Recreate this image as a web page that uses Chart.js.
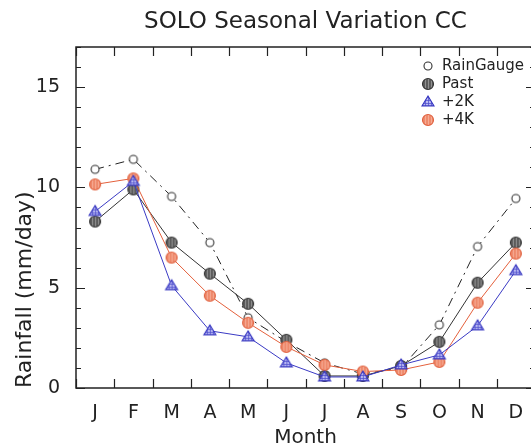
<!DOCTYPE html>
<html>
<head>
<meta charset="utf-8">
<script src="https://cdn.jsdelivr.net/npm/chart.js@4.4.0/dist/chart.umd.min.js"></script>
<style>
  html, body { margin: 0; padding: 0; background: #fff; overflow: hidden; }
  #wrap { width: 542px; height: 448px; }
</style>
</head>
<body>
<div id="wrap"><canvas id="c" width="542" height="448"></canvas></div>
<script>
/* ================================
   DATA
================================ */
const months = ['J','F','M','A','M','J','J','A','S','O','N','D'];
const rainGauge = [10.9, 11.4, 9.55, 7.25, 3.5, 2.3, 1.25, 0.7, 1.0, 3.15, 7.05, 9.45];
const past      = [8.3, 9.9, 7.25, 5.7, 4.2, 2.4, 0.6, 0.6, 1.1, 2.3, 5.25, 7.25];
const plus2K    = [8.8, 10.3, 5.1, 2.85, 2.55, 1.25, 0.55, 0.55, 1.15, 1.65, 3.1, 5.85];
const plus4K    = [10.15, 10.45, 6.5, 4.6, 3.25, 2.05, 1.15, 0.82, 0.9, 1.3, 4.25, 6.7];
const yMax = 17;
const yStep = 5;
const titleText = 'SOLO Seasonal Variation CC';

const FONT = "'DejaVu Sans', sans-serif";
const INK = '#222';

/* ================================
   MARKERS (small canvases)
================================ */
function makeMarker(shape, r, fill, stroke, hatch) {
  const s = 16;
  const m = document.createElement('canvas');
  m.width = s; m.height = s;
  const g = m.getContext('2d');
  const path = () => {
    g.beginPath();
    if (shape === 'circle') {
      g.arc(s / 2, s / 2, r, 0, Math.PI * 2);
    } else {
      g.moveTo(s / 2, s / 2 - r - 0.5);
      g.lineTo(s / 2 + r + 0.5, s / 2 + r * 0.7);
      g.lineTo(s / 2 - r - 0.5, s / 2 + r * 0.7);
      g.closePath();
    }
  };
  path();
  g.fillStyle = fill;
  g.fill();
  if (hatch) {
    g.save();
    path();
    g.clip();
    g.strokeStyle = hatch;
    g.lineWidth = 1;
    for (let x = 2.5; x < s; x += 3) {
      g.beginPath(); g.moveTo(x, 0); g.lineTo(x, s); g.stroke();
    }
    if (shape === 'tri') {
      for (let y = 3.5; y < s; y += 3) {
        g.beginPath(); g.moveTo(0, y); g.lineTo(s, y); g.stroke();
      }
    }
    g.restore();
  }
  path();
  g.strokeStyle = stroke;
  g.lineWidth = 1.1;
  g.stroke();
  return m;
}

const mkRain = makeMarker('circle', 4, '#fff', '#333', null);
const mkPast = makeMarker('circle', 5.5, '#5c5c5c', '#333', 'rgba(190,190,190,0.55)');
const mk2K   = makeMarker('tri', 5.5, '#b8b8f2', '#3535c0', 'rgba(80,80,205,0.75)');
const mk4K   = makeMarker('circle', 5.5, '#ee8a6c', '#e0603e', 'rgba(250,185,165,0.7)');

/* ================================
   FRAME, TICKS, TITLE, LEGEND
================================ */
const framePlugin = {
  id: 'frame',
  afterDraw(chart) {
    const { ctx, chartArea: a, scales } = chart;
    const x = scales.x, y = scales.y;
    ctx.save();
    ctx.strokeStyle = INK;
    ctx.lineWidth = 1.5;
    ctx.strokeRect(a.left, a.top, a.right - a.left, a.bottom - a.top);

    ctx.lineWidth = 1.2;
    ctx.beginPath();
    for (let v = 0; v <= yMax; v++) {
      const py = Math.round(y.getPixelForValue(v)) + 0.5;
      const len = v % yStep === 0 ? 9 : 5;
      ctx.moveTo(a.left, py); ctx.lineTo(a.left + len, py);
      ctx.moveTo(a.right, py); ctx.lineTo(a.right - len, py);
    }
    for (let i = 0; i <= months.length; i++) {
      const px = Math.round(x.getPixelForValue(i - 0.5)) + 0.5;
      ctx.moveTo(px, a.bottom); ctx.lineTo(px, a.bottom - 9);
      ctx.moveTo(px, a.top); ctx.lineTo(px, a.top + 9);
    }
    ctx.stroke();

    // title, centred over the plot area
    ctx.fillStyle = INK;
    ctx.textAlign = 'center';
    ctx.textBaseline = 'middle';
    ctx.font = '23px ' + FONT;
    ctx.fillText(titleText, (a.left + a.right) / 2, 22);

    // legend
    const items = [
      ['RainGauge', mkRain], ['Past', mkPast], ['+2K', mk2K], ['+4K', mk4K]
    ];
    ctx.font = '15px ' + FONT;
    ctx.textAlign = 'left';
    items.forEach((it, k) => {
      const ly = 66 + k * 18;
      Chart.helpers.drawPoint(ctx, { pointStyle: it[1], radius: 6, rotation: 0, borderWidth: 0 }, 428, ly);
      ctx.fillText(it[0], 442, ly);
    });
    ctx.restore();
  }
};

/* ================================
   CHART
================================ */
const lineSet = (label, data, color, mk, extra) => Object.assign({
  label,
  data,
  borderColor: color,
  borderWidth: 1,
  pointStyle: mk,
  pointRadius: 6,
  tension: 0,
  fill: false
}, extra || {});

new Chart(document.getElementById('c'), {
  type: 'line',
  data: {
    labels: months,
    datasets: [
      lineSet('RainGauge', rainGauge, '#222', mkRain, { borderDash: [9, 5, 2, 5], order: 4 }),
      lineSet('Past', past, '#333', mkPast, { order: 3 }),
      lineSet('+4K', plus4K, '#e4603c', mk4K, { order: 2 }),
      lineSet('+2K', plus2K, '#3a3ac4', mk2K, { order: 1 })
    ]
  },
  options: {
    responsive: false,
    animation: false,
    layout: { padding: { left: 0, right: 2, top: 47, bottom: 0 } },
    plugins: {
      legend: { display: false },
      tooltip: { enabled: false },
      title: { display: false }
    },
    scales: {
      x: {
        offset: true,
        grid: { display: false },
        border: { display: false },
        ticks: { color: INK, padding: 6, font: { family: FONT, size: 19 }, maxRotation: 0, autoSkip: false },
        title: { display: true, text: 'Month', color: INK, font: { family: FONT, size: 20, lineHeight: 1 }, padding: { top: 0, bottom: 0 } },
        afterFit: s => { s.height = 60; }
      },
      y: {
        min: 0,
        max: yMax,
        grid: { display: false },
        border: { display: false },
        afterBuildTicks: s => { s.ticks = s.ticks.filter(t => t.value % yStep === 0); },
        ticks: { stepSize: yStep, color: INK, padding: 8, font: { family: FONT, size: 19 } },
        title: { display: true, text: 'Rainfall (mm/day)', align: 'start', color: INK, font: { family: FONT, size: 22, lineHeight: 1 }, padding: { top: 14, bottom: 0 } },
        afterFit: s => { s.width = 76; }
      }
    }
  },
  plugins: [framePlugin]
});
</script>
</body>
</html>
